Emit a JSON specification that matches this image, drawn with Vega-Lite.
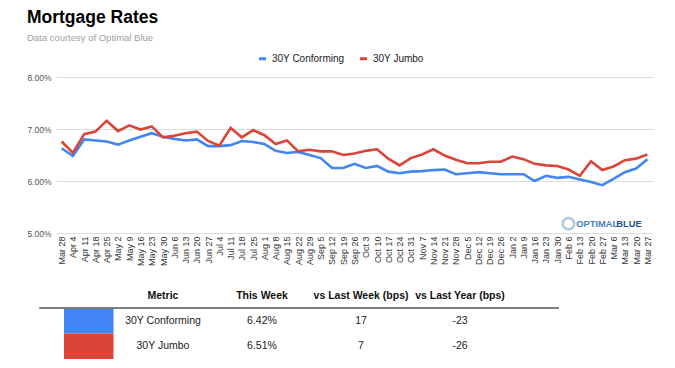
{
  "$schema": "https://vega.github.io/schema/vega-lite/v6.json",
  "background": "white",
  "padding": {"left": 26, "top": 8, "right": 5, "bottom": 5},
  "config": {"view": {"stroke": null}, "font": "Liberation Sans"},
  "title": {
    "text": "Mortgage Rates",
    "subtitle": "Data courtesy of Optimal Blue",
    "anchor": "start",
    "font": "Liberation Sans",
    "fontSize": 17.5,
    "fontWeight": "bold",
    "color": "#000000",
    "subtitleFont": "Liberation Sans",
    "subtitleFontSize": 9.5,
    "subtitleColor": "#9e9e9e",
    "subtitlePadding": 7,
    "offset": 10.5
  },
  "spacing": 16.5,
  "resolve": {"legend": {"color": "independent"}},
  "vconcat": [
    {
      "width": 597,
      "height": 156,
      "layer": [
        {
          "data": {"values": [
            {"week": "Mar 28", "30Y Conforming": 6.63, "30Y Jumbo": 6.76},
            {"week": "Apr 4", "30Y Conforming": 6.48, "30Y Jumbo": 6.54},
            {"week": "Apr 11", "30Y Conforming": 6.80, "30Y Jumbo": 6.90},
            {"week": "Apr 18", "30Y Conforming": 6.78, "30Y Jumbo": 6.95},
            {"week": "Apr 25", "30Y Conforming": 6.76, "30Y Jumbo": 7.16},
            {"week": "May 2", "30Y Conforming": 6.70, "30Y Jumbo": 6.96},
            {"week": "May 9", "30Y Conforming": 6.78, "30Y Jumbo": 7.07},
            {"week": "May 16", "30Y Conforming": 6.85, "30Y Jumbo": 6.99},
            {"week": "May 23", "30Y Conforming": 6.92, "30Y Jumbo": 7.05},
            {"week": "May 30", "30Y Conforming": 6.85, "30Y Jumbo": 6.84},
            {"week": "Jun 6", "30Y Conforming": 6.81, "30Y Jumbo": 6.87},
            {"week": "Jun 13", "30Y Conforming": 6.78, "30Y Jumbo": 6.92},
            {"week": "Jun 20", "30Y Conforming": 6.80, "30Y Jumbo": 6.95},
            {"week": "Jun 27", "30Y Conforming": 6.67, "30Y Jumbo": 6.77},
            {"week": "Jul 4", "30Y Conforming": 6.67, "30Y Jumbo": 6.68},
            {"week": "Jul 11", "30Y Conforming": 6.69, "30Y Jumbo": 7.02},
            {"week": "Jul 18", "30Y Conforming": 6.77, "30Y Jumbo": 6.84},
            {"week": "Jul 25", "30Y Conforming": 6.75, "30Y Jumbo": 6.98},
            {"week": "Aug 1", "30Y Conforming": 6.71, "30Y Jumbo": 6.88},
            {"week": "Aug 8", "30Y Conforming": 6.58, "30Y Jumbo": 6.71},
            {"week": "Aug 15", "30Y Conforming": 6.54, "30Y Jumbo": 6.78},
            {"week": "Aug 22", "30Y Conforming": 6.56, "30Y Jumbo": 6.57},
            {"week": "Aug 29", "30Y Conforming": 6.50, "30Y Jumbo": 6.60},
            {"week": "Sep 5", "30Y Conforming": 6.44, "30Y Jumbo": 6.57},
            {"week": "Sep 12", "30Y Conforming": 6.25, "30Y Jumbo": 6.57},
            {"week": "Sep 19", "30Y Conforming": 6.25, "30Y Jumbo": 6.50},
            {"week": "Sep 26", "30Y Conforming": 6.33, "30Y Jumbo": 6.53},
            {"week": "Oct 3", "30Y Conforming": 6.25, "30Y Jumbo": 6.58},
            {"week": "Oct 10", "30Y Conforming": 6.29, "30Y Jumbo": 6.61},
            {"week": "Oct 17", "30Y Conforming": 6.18, "30Y Jumbo": 6.43},
            {"week": "Oct 24", "30Y Conforming": 6.15, "30Y Jumbo": 6.30},
            {"week": "Oct 31", "30Y Conforming": 6.18, "30Y Jumbo": 6.44},
            {"week": "Nov 7", "30Y Conforming": 6.19, "30Y Jumbo": 6.51},
            {"week": "Nov 14", "30Y Conforming": 6.21, "30Y Jumbo": 6.61},
            {"week": "Nov 21", "30Y Conforming": 6.22, "30Y Jumbo": 6.49},
            {"week": "Nov 28", "30Y Conforming": 6.13, "30Y Jumbo": 6.41},
            {"week": "Dec 5", "30Y Conforming": 6.15, "30Y Jumbo": 6.34},
            {"week": "Dec 12", "30Y Conforming": 6.17, "30Y Jumbo": 6.34},
            {"week": "Dec 19", "30Y Conforming": 6.15, "30Y Jumbo": 6.37},
            {"week": "Dec 26", "30Y Conforming": 6.13, "30Y Jumbo": 6.37},
            {"week": "Jan 2", "30Y Conforming": 6.13, "30Y Jumbo": 6.47},
            {"week": "Jan 9", "30Y Conforming": 6.13, "30Y Jumbo": 6.42},
            {"week": "Jan 16", "30Y Conforming": 6.00, "30Y Jumbo": 6.33},
            {"week": "Jan 23", "30Y Conforming": 6.10, "30Y Jumbo": 6.30},
            {"week": "Jan 30", "30Y Conforming": 6.06, "30Y Jumbo": 6.29},
            {"week": "Feb 6", "30Y Conforming": 6.08, "30Y Jumbo": 6.22},
            {"week": "Feb 13", "30Y Conforming": 6.03, "30Y Jumbo": 6.10},
            {"week": "Feb 20", "30Y Conforming": 5.98, "30Y Jumbo": 6.38},
            {"week": "Feb 27", "30Y Conforming": 5.92, "30Y Jumbo": 6.21},
            {"week": "Mar 6", "30Y Conforming": 6.04, "30Y Jumbo": 6.28},
            {"week": "Mar 13", "30Y Conforming": 6.17, "30Y Jumbo": 6.40},
            {"week": "Mar 20", "30Y Conforming": 6.24, "30Y Jumbo": 6.43},
            {"week": "Mar 27", "30Y Conforming": 6.42, "30Y Jumbo": 6.51}
          ]},
          "transform": [{"fold": ["30Y Conforming", "30Y Jumbo"], "as": ["series", "rate"]}],
          "mark": {"type": "line", "strokeWidth": 2.6},
          "encoding": {
            "x": {
              "field": "week", "type": "ordinal", "sort": null,
              "scale": {"type": "point", "padding": 0.5},
              "axis": {"title": null, "labelAngle": 270, "labelFontSize": 9, "labelColor": "#333333", "domain": false, "ticks": false, "labelPadding": 3, "grid": false, "labelOverlap": false}
            },
            "y": {
              "field": "rate", "type": "quantitative",
              "scale": {"domain": [5, 8], "nice": false, "zero": false},
              "axis": {"title": null, "values": [5, 6, 7, 8], "labelExpr": "format(datum.value, '.2f') + '%'", "domain": false, "ticks": false, "labelPadding": 5, "labelFontSize": 8.5, "labelColor": "#555555", "gridColor": "#dcdcdc", "gridWidth": 1}
            },
            "color": {
              "field": "series", "type": "nominal",
              "scale": {"domain": ["30Y Conforming", "30Y Jumbo"], "range": ["#4285f4", "#db4437"]},
              "legend": {"orient": "none", "legendX": 201, "legendY": -24, "direction": "horizontal", "title": null, "symbolType": "stroke", "symbolStrokeWidth": 3, "symbolSize": 50, "labelFontSize": 10, "labelColor": "#222222", "columnPadding": 8, "labelOffset": 4}
            }
          }
        },
        {
          "data": {"values": [{"part": "OPTIMAL"}]},
          "mark": {"type": "text", "align": "left", "baseline": "middle", "fontSize": 9.3, "fontWeight": "bold", "color": "#4a7fc1", "dx": -3.5},
          "encoding": {
            "x": {"datum": "Feb 13", "type": "ordinal"},
            "y": {"datum": 5.17, "type": "quantitative"},
            "text": {"field": "part"}
          }
        },
        {
          "data": {"values": [{"part": "BLUE"}]},
          "mark": {"type": "text", "align": "left", "baseline": "middle", "fontSize": 9.3, "fontWeight": "bold", "color": "#1f4e8c", "dx": 14},
          "encoding": {
            "x": {"datum": "Feb 27", "type": "ordinal"},
            "y": {"datum": 5.17, "type": "quantitative"},
            "text": {"field": "part"}
          }
        },
        {
          "data": {"values": [{"part": "icon"}]},
          "mark": {"type": "point", "shape": "circle", "size": 130, "filled": false, "strokeWidth": 2.5, "color": "#8fb0d6"},
          "encoding": {
            "x": {"datum": "Feb 6", "type": "ordinal"},
            "y": {"datum": 5.18, "type": "quantitative"}
          }
        }
      ]
    },
    {
      "width": 503,
      "height": 76.5,
      "data": {"values": [
        {"Metric": "30Y Conforming", "This Week": "6.42%", "vs Last Week (bps)": "17", "vs Last Year (bps)": "-23"},
        {"Metric": "30Y Jumbo", "This Week": "6.51%", "vs Last Week (bps)": "7", "vs Last Year (bps)": "-26"}
      ]},
      "layer": [
        {
          "mark": {"type": "rect"},
          "encoding": {
            "x": {"datum": "sw0", "type": "nominal", "scale": {"type": "point", "domain": ["a", "sw0", "b", "sw1", "c", "Metric", "d", "e", "f", "This Week", "g", "h", "i", "vs Last Week (bps)", "j", "k", "l", "vs Last Year (bps)", "m", "n", "o", "end"], "range": [-16.75, 503], "padding": 0}, "axis": null},
            "x2": {"datum": "sw1"},
            "y": {"field": "Metric", "type": "nominal", "scale": {"type": "band", "domain": ["header", "30Y Conforming", "30Y Jumbo"], "paddingInner": 0, "paddingOuter": 0}, "axis": null},
            "color": {"field": "Metric", "type": "nominal", "legend": null}
          }
        },
        {
          "mark": {"type": "rule", "color": "#777777", "strokeWidth": 1.3},
          "encoding": {
            "x": {"datum": "a", "type": "nominal"},
            "x2": {"datum": "end"},
            "y": {"datum": "30Y Conforming", "type": "nominal", "bandPosition": 0}
          }
        },
        {
          "transform": [{"fold": ["Metric", "This Week", "vs Last Week (bps)", "vs Last Year (bps)"], "as": ["column", "value"]}],
          "mark": {"type": "text", "fontSize": 10.5, "color": "#222222", "dy": 0},
          "encoding": {
            "x": {"field": "column", "type": "nominal"},
            "y": {"field": "Metric", "type": "nominal"},
            "text": {"field": "value"}
          }
        },
        {
          "transform": [
            {"fold": ["Metric", "This Week", "vs Last Week (bps)", "vs Last Year (bps)"], "as": ["column", "value"]},
            {"aggregate": [{"op": "count", "as": "n"}], "groupby": ["column"]}
          ],
          "mark": {"type": "text", "fontSize": 10.5, "fontWeight": "bold", "color": "#111111", "dy": 0.5},
          "encoding": {
            "x": {"field": "column", "type": "nominal"},
            "y": {"datum": "header", "type": "nominal"},
            "text": {"field": "column"}
          }
        }
      ]
    }
  ]
}
